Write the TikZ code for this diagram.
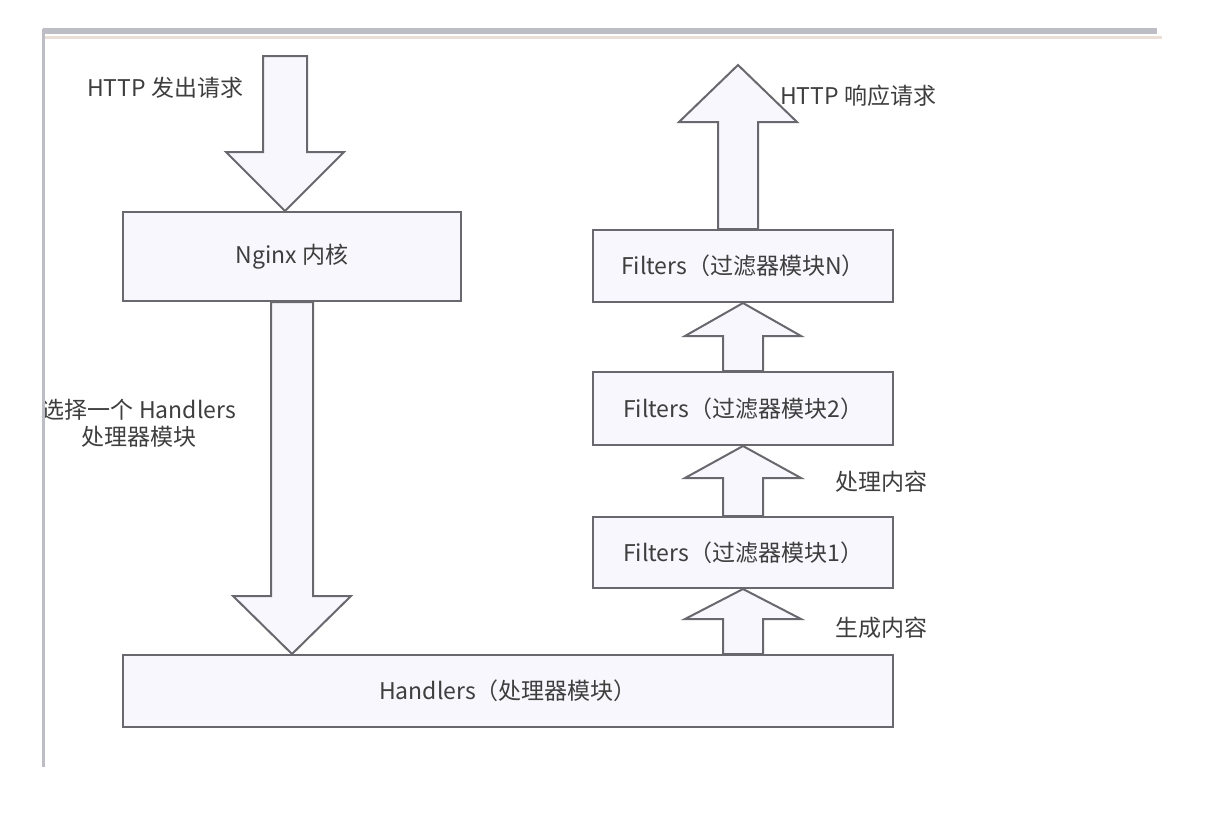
\documentclass[tikz,border=0pt]{standalone}
\usepackage{fontspec}
\setmainfont{Noto Sans CJK SC}
\usetikzlibrary{calc}
\definecolor{boxfill}{HTML}{F7F7FD}
\definecolor{edge}{HTML}{68686E}
\definecolor{txt}{HTML}{3E3E3E}
\definecolor{framegray}{HTML}{BDBDC6}
\definecolor{framebeige}{HTML}{EADFD6}
\newcommand\upblk[5]{%
  \path[blockarrow] let \p1=(#1), \p2=(#2) in
  (\x1-#3pt,\y1) -- (\x1-#3pt,\y2-#5pt) -- (\x1-#4pt,\y2-#5pt) -- (\x1,\y2)
  -- (\x1+#4pt,\y2-#5pt) -- (\x1+#3pt,\y2-#5pt) -- (\x1+#3pt,\y1) -- cycle;}
\newcommand\downblk[5]{%
  \path[blockarrow] let \p1=(#1), \p2=(#2) in
  (\x1-#3pt,\y1) -- (\x1-#3pt,\y2+#5pt) -- (\x1-#4pt,\y2+#5pt) -- (\x1,\y2)
  -- (\x1+#4pt,\y2+#5pt) -- (\x1+#3pt,\y2+#5pt) -- (\x1+#3pt,\y1) -- cycle;}
\begin{document}
\begin{tikzpicture}[x=1pt,y=-1pt,
  box/.style={draw=edge,fill=boxfill,line width=2pt,inner sep=0pt,
    text=txt,font=\fontsize{23}{27}\selectfont},
  blockarrow/.style={draw=edge,fill=boxfill,line width=2pt,line join=miter},
  lbl/.style={text=txt,font=\fontsize{23}{27}\selectfont,inner sep=0pt}]
\useasboundingbox[fill=white] (0,0) rectangle (1214,812);
% frame
\draw[framebeige,line width=3pt] (43,37) -- (1162,37);
\draw[framegray,line width=6pt] (43,31) -- (1157,31);
\draw[framegray,line width=3pt] (43,29) -- (43,767);
% boxes
\node[box,minimum width=338pt,minimum height=89pt] (nginx) at (292,256.5) {Nginx 内核};
\node[box,minimum width=770pt,minimum height=72pt] (handlers) at (508,691) {Handlers（处理器模块）};
\node[box,minimum width=300pt,minimum height=71pt] (f1) at (743,552.5) {Filters（过滤器模块1）};
\node[box,minimum width=300pt,minimum height=73pt] (f2) at (743,408.5) {Filters（过滤器模块2）};
\node[box,minimum width=300pt,minimum height=72pt] (fn) at (743,266) {Filters（过滤器模块N）};
% free ends
\coordinate (req) at (285,56);
\coordinate (resp) at (738,65);
% arrows
\downblk{req}{nginx.north -| req}{22}{59}{59}
\downblk{nginx.south}{handlers.north -| nginx.south}{21}{59}{58}
\upblk{handlers.north -| f1.south}{f1.south}{20}{58}{30}
\upblk{f1.north}{f2.south}{20}{58}{32}
\upblk{f2.north}{fn.south}{20}{58}{33}
\upblk{fn.north -| resp}{resp}{20}{59}{57}
% labels
\node[lbl,anchor=west] (lreq) at (87,88) {HTTP 发出请求};
\node[lbl,anchor=west] (lresp) at (780,96) {HTTP 响应请求};
\node[lbl,anchor=west] (lproc) at (835,482) {处理内容};
\node[lbl,anchor=west] (lgen) at (835,628) {生成内容};
\begin{scope}
\clip (45,380) rectangle (300,470);
\node[lbl,align=center] (lsel) at (139,423) {选择一个 Handlers\\处理器模块};
\end{scope}
\end{tikzpicture}
\end{document}
